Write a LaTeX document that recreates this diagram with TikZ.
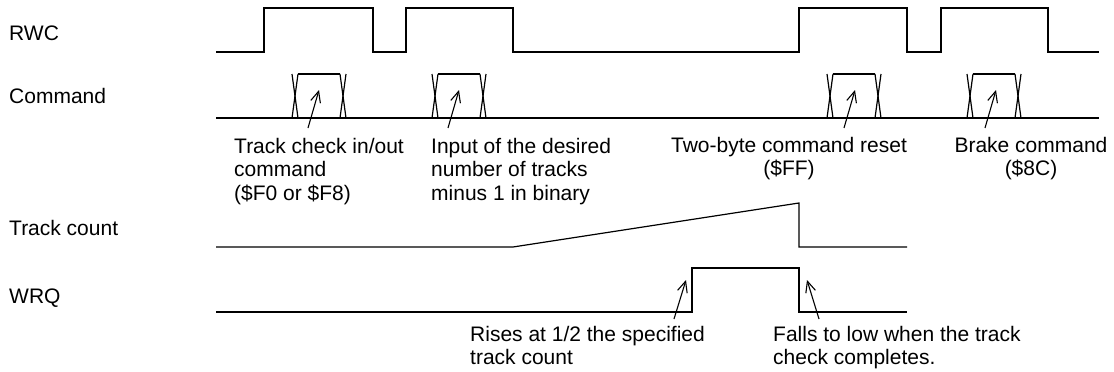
\documentclass[tikz,border=0pt]{standalone}
\usepackage{fontspec}
\setmainfont{Liberation Sans}
\usetikzlibrary{arrows.meta}

\begin{document}
\begin{tikzpicture}[x=1pt, y=-1pt,
    sigline/.style = {line width=1.2pt, line join=miter},
    signame/.style = {anchor=west, inner sep=0pt, font=\fontsize{21}{23.5}\selectfont},
    note/.style = {inner sep=0pt, font=\fontsize{21}{23.5}\selectfont},
    pointer/.style = {line width=1.1pt, -{Straight Barb[length=11pt, width=10pt]}}]
     \useasboundingbox (0,0) rectangle (1114,372);

     % signal names
     \node[signame] (rwc) at (9,33) {RWC};
     \node[signame] (cmd) at (9,96) {Command};
     \node[signame] (cnt) at (9,228) {Track count};
     \node[signame] (wrq) at (9,298) {WRQ};

     % RWC
     \draw[sigline] (216,52) -- (264,52) -- (264,8) -- (373,8) -- (373,52) -- (406,52) -- (406,8)
          -- (513,8) -- (513,52) -- (799,52) -- (799,8) -- (907,8) -- (907,52) -- (941,52)
          -- (941,8) -- (1048,8) -- (1048,52) -- (1099,52);

     % Command
     \draw[sigline] (216,118) -- (1099,118);
     \foreach \x in {292,432,827,967} {
          \draw[sigline] (\x,74) -- (\x+6,118);
          \draw[sigline] (\x+6,74) -- (\x,118);
          \draw[sigline] (\x+6,74) -- (\x+48,74);
          \draw[sigline] (\x+48,74) -- (\x+54,118);
          \draw[sigline] (\x+54,74) -- (\x+48,118);
     }

     % Track count
     \draw[sigline] (216,247) -- (513,247) -- (799,203) -- (799,247) -- (907,247);

     % WRQ
     \draw[sigline] (216,312) -- (692,312) -- (692,268) -- (799,268) -- (799,312) -- (907,312);

     % notes
     \node[note, anchor=north west, align=left] (chk) at (234,138)
          {Track check in/out\\command\\(\$F0 or \$F8)};
     \node[note, anchor=north west, align=left] (num) at (431,138)
          {Input of the desired\\number of tracks\\minus 1 in binary};
     \node[note, anchor=north, align=center] (rst) at (789,137)
          {Two-byte command reset\\(\$FF)};
     \node[note, anchor=north, align=center] (brk) at (1031,137)
          {Brake command\\(\$8C)};
     \node[note, anchor=north west, align=left] (rise) at (470,326)
          {Rises at 1/2 the specified\\track count};
     \node[note, anchor=north west, align=left] (fall) at (773,326)
          {Falls to low when the track\\check completes.};

     % pointers
     \coordinate (chktail) at (308,128);
     \coordinate (chktip) at (319,90);
     \coordinate (numtail) at (448,128);
     \coordinate (numtip) at (459,90);
     \coordinate (rsttail) at (844,128);
     \coordinate (rsttip) at (855,90);
     \coordinate (brktail) at (985,128);
     \coordinate (brktip) at (996,90);
     \coordinate (risetail) at (674,319);
     \coordinate (risetip) at (686,280);
     \coordinate (falltail) at (819,319);
     \coordinate (falltip) at (807,280);

     \draw[pointer] (chktail) -- (chktip);
     \draw[pointer] (numtail) -- (numtip);
     \draw[pointer] (rsttail) -- (rsttip);
     \draw[pointer] (brktail) -- (brktip);
     \draw[pointer] (risetail) -- (risetip);
     \draw[pointer] (falltail) -- (falltip);
\end{tikzpicture}
\end{document}
